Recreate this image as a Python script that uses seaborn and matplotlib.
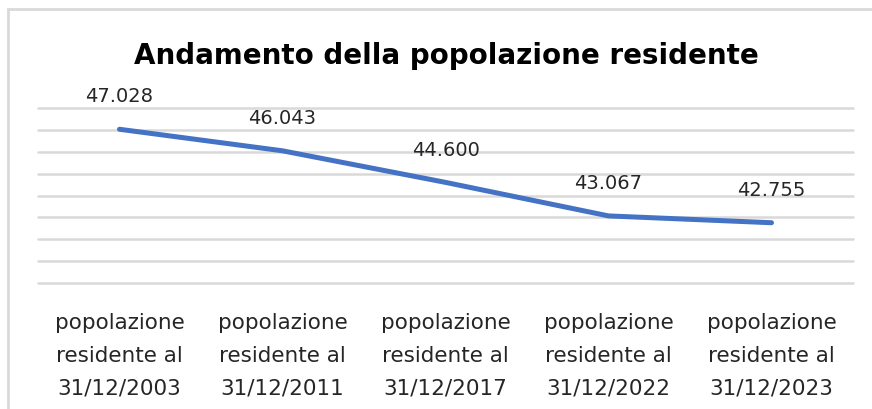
import matplotlib
matplotlib.use("Agg")
import matplotlib.pyplot as plt
import seaborn as sns
import pandas as pd
from matplotlib.patches import Rectangle

# data
categories = [
    "popolazione\nresidente al\n31/12/2003",
    "popolazione\nresidente al\n31/12/2011",
    "popolazione\nresidente al\n31/12/2017",
    "popolazione\nresidente al\n31/12/2022",
    "popolazione\nresidente al\n31/12/2023",
]
values = [47028, 46043, 44600, 43067, 42755]
labels = ["47.028", "46.043", "44.600", "43.067", "42.755"]

df = pd.DataFrame({"cat": categories, "pop": values})

sns.set_style("white")
plt.rcParams["font.family"] = ["DejaVu Sans"]

fig = plt.figure(figsize=(8.72, 4.10), dpi=100)
ax = fig.add_axes([38 / 872, 1 - 284 / 410, 815 / 872, 175 / 410])

sns.lineplot(data=df, x="cat", y="pop", ax=ax, color="#4472C4", linewidth=3.6,
             sort=False, solid_capstyle="round")

ax.set_ylim(40000, 48000)
ax.set_xlim(-0.5, 4.5)
ax.set_yticks(range(40000, 48001, 1000))
ax.yaxis.grid(True, color="#D9D9D9", linewidth=1.8)
for g in ax.get_ygridlines():
    g.set_clip_on(False)
ax.set_yticklabels([])
ax.tick_params(axis="y", length=0)
ax.tick_params(axis="x", length=0, labelsize=15.5, pad=21, colors="#262626")
for lbl in ax.get_xticklabels():
    lbl.set_linespacing(1.8)
for s in ax.spines.values():
    s.set_visible(False)
ax.set_xlabel("")
ax.set_ylabel("")

for i, (v, t) in enumerate(zip(values, labels)):
    ax.annotate(t, (i, v), xytext=(0, 24), textcoords="offset points",
                ha="center", va="center", fontsize=14, color="#262626")

fig.text(446 / 872, 1 - 56 / 410, "Andamento della popolazione residente",
         ha="center", va="center", fontsize=20, fontweight="bold", color="black")

# chart border (top and left visible)
fig.patches.append(Rectangle((8 / 872, -0.1), 1.2, 1 - 10 / 410 + 0.1,
                             transform=fig.transFigure, fill=False,
                             edgecolor="#D9D9D9", linewidth=2))

fig.savefig("out.png", dpi=100)
